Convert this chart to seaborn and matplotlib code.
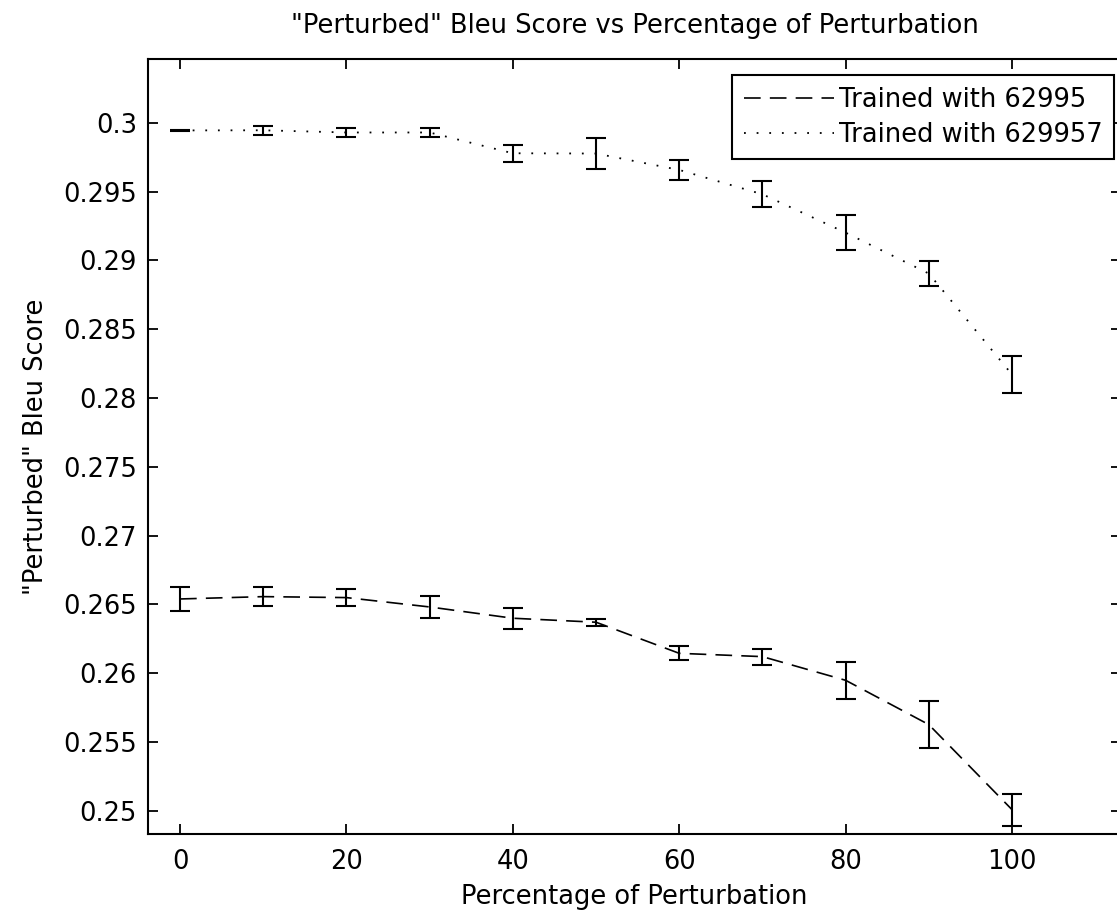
import numpy as np
import pandas as pd
import matplotlib
matplotlib.use("Agg")
import matplotlib.pyplot as plt
from matplotlib.ticker import FuncFormatter
import seaborn as sns

# ---- data ----
perturbation = [0, 10, 20, 30, 40, 50, 60, 70, 80, 90, 100]
bleu_62995 = [0.26540, 0.26557, 0.26550, 0.26482, 0.26400, 0.26371,
              0.26145, 0.26121, 0.25949, 0.25627, 0.25009]
err_62995 = [0.00087, 0.00070, 0.00060, 0.00080, 0.00075, 0.00027,
             0.00050, 0.00058, 0.00133, 0.00173, 0.00117]
bleu_629957 = [0.29945, 0.29946, 0.29930, 0.29930, 0.29779, 0.29777,
               0.29658, 0.29481, 0.29202, 0.28905, 0.28171]
err_629957 = [0.00003, 0.00033, 0.00030, 0.00030, 0.00063, 0.00110,
              0.00075, 0.00096, 0.00127, 0.00092, 0.00133]
series_labels = ["Trained with 62995", "Trained with 629957"]
x_ticks = [0, 20, 40, 60, 80, 100]
y_ticks = [0.25, 0.255, 0.26, 0.265, 0.27, 0.275, 0.28, 0.285, 0.29, 0.295, 0.3]

title = '"Perturbed" Bleu Score vs Percentage of Perturbation'
xlabel = "Percentage of Perturbation"
ylabel = '"Perturbed" Bleu Score'

sns.set_theme(style="white")
plt.rcParams["font.family"] = ["DejaVu Sans"]
plt.rcParams["axes.edgecolor"] = "black"
plt.rcParams["text.color"] = "black"
plt.rcParams["axes.labelcolor"] = "black"
plt.rcParams["xtick.color"] = "black"
plt.rcParams["ytick.color"] = "black"

FS = 18.5
W, H = 1117, 917
fig = plt.figure(figsize=(W / 100, H / 100), dpi=100)
fig.patch.set_facecolor("white")
left, right, top, bottom = 148, 1121, 59, 834
ax = fig.add_axes([left / W, 1 - bottom / H, (right - left) / W, (bottom - top) / H])
ax.set_facecolor("white")

df1 = pd.DataFrame({"x": perturbation, "y": bleu_62995})
df2 = pd.DataFrame({"x": perturbation, "y": bleu_629957})

sns.lineplot(data=df1, x="x", y="y", ax=ax, color="black", lw=1.2,
             linestyle=(0, (10, 5.5)), label=series_labels[0], errorbar=None)
sns.lineplot(data=df2, x="x", y="y", ax=ax, color="black", lw=1.3,
             linestyle=(0, (1, 6)), label=series_labels[1], errorbar=None)

for yv, ev in ((bleu_62995, err_62995), (bleu_629957, err_629957)):
    ax.errorbar(perturbation, yv, yerr=ev, fmt="none", ecolor="black",
                elinewidth=1.5, capsize=7.5, capthick=1.5, zorder=3)

ax.set_xlim(-3.85, 113.1)
ax.set_ylim(0.24832, 0.30464)
ax.set_xticks(x_ticks)
ax.set_yticks(y_ticks)
ax.yaxis.set_major_formatter(FuncFormatter(lambda v, p: f"{v:g}"))

for s in ax.spines.values():
    s.set_visible(True)
    s.set_color("black")
    s.set_linewidth(1.5)

ax.tick_params(axis="both", which="major", direction="in", length=7.5, width=1.3,
               colors="black", labelsize=FS, top=True, right=True,
               bottom=True, left=True)
ax.tick_params(axis="x", pad=11)
ax.tick_params(axis="y", pad=8)

ax.set_title(title, fontsize=FS, pad=19, color="black")
ax.set_xlabel(xlabel, fontsize=FS, labelpad=6, color="black")
ax.set_ylabel(ylabel, fontsize=FS, labelpad=10, color="black")

leg = ax.legend(loc="upper right", bbox_to_anchor=(1114 / W, 1 - 75 / H),
                bbox_transform=fig.transFigure, borderaxespad=0,
                fontsize=FS, frameon=True, fancybox=False, shadow=False,
                framealpha=1, edgecolor="black", facecolor="white",
                handlelength=3.5, handletextpad=0.2, labelspacing=0.35,
                borderpad=0.45, labelcolor="black")
leg.get_frame().set_linewidth(1.5)

fig.savefig("out.png", dpi=100, facecolor="white")
